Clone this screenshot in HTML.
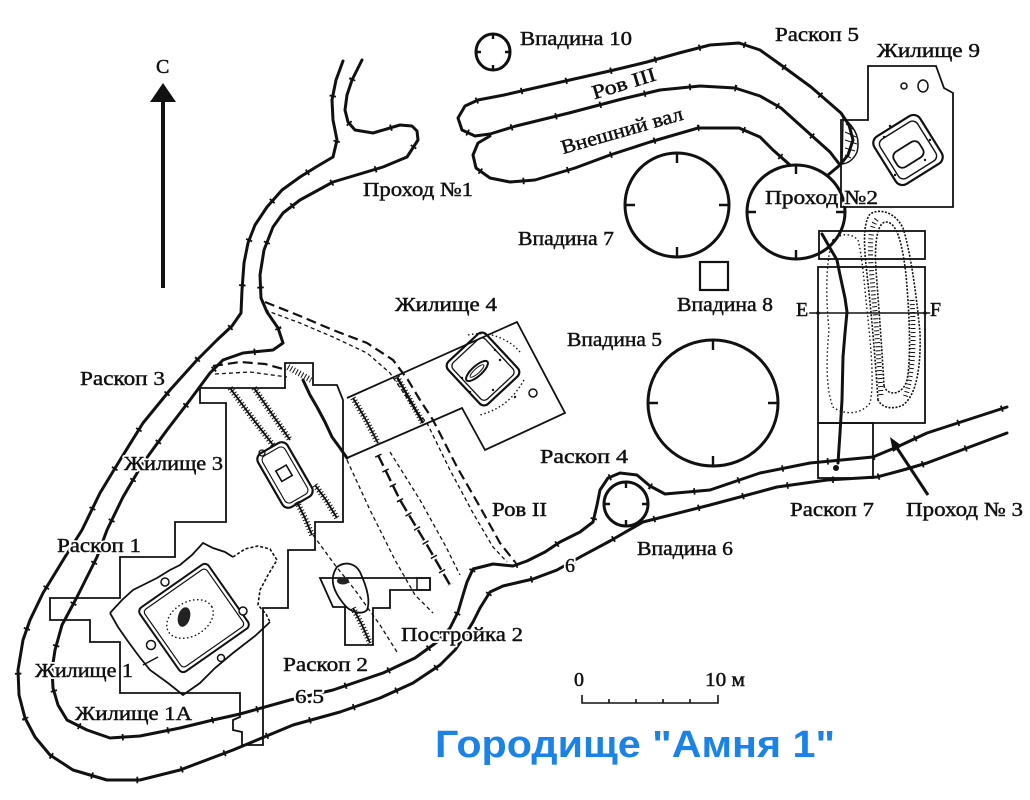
<!DOCTYPE html>
<html><head><meta charset="utf-8">
<style>
html,body{margin:0;padding:0;background:#fff;}
svg{display:block;}
.h text{font-family:"Liberation Serif","DejaVu Serif",serif;font-size:20px;fill:#fff;stroke:#fff;stroke-width:4;stroke-linejoin:round;}
.f text{font-family:"Liberation Serif","DejaVu Serif",serif;font-size:20px;fill:#111;stroke:#111;stroke-width:0.45;}
.ln{fill:none;stroke:#111;stroke-width:3;stroke-linejoin:round;stroke-linecap:round;}
.tk{fill:none;stroke:#111;stroke-width:6.5;stroke-dasharray:1.8 44;}
.th{fill:none;stroke:#111;stroke-width:1.8;stroke-linejoin:miter;}
.ht{fill:none;stroke:#111;stroke-width:6;stroke-dasharray:1 2.2;}
.d1{fill:none;stroke:#111;stroke-width:2.2;stroke-dasharray:10 5;}
.d2{fill:none;stroke:#111;stroke-width:1.3;stroke-dasharray:4 3;}
.dt{fill:none;stroke:#111;stroke-width:1.4;stroke-dasharray:1.5 2.5;}
.c{fill:none;stroke:#111;stroke-width:3;}
.tc{stroke:#111;stroke-width:2.4;}
</style></head><body>
<svg width="1030" height="800" viewBox="0 0 1030 800" xmlns="http://www.w3.org/2000/svg">
<rect width="1030" height="800" fill="#fff"/>

<!-- North arrow -->
<line x1="163" y1="98" x2="163" y2="288" stroke="#111" stroke-width="4"/>
<polygon points="150,102 176,102 163,83" fill="#111"/>

<!-- West rampart outer line -->
<path class="ln" d="M343,61 L336,80 332,100 333,120 337,140 333,157 316,167 300,177 282,190 267,207 255,225 248,243 244,263 242,290 241,313 232,326 217,340 197,360 170,390 143,423 120,460 100,493 82,530 65,557 43,593 30,620 23,640 18,670 19,695 25,718 35,737 50,755 73,770 107,780 140,780 180,770 233,750 293,725 340,712 380,698 413,683 440,665 455,650 465,635 473,622 480,608 490,592 503,586 533,579 557,570 582,556 610,541 643,522 710,505 777,487 827,480 877,477 903,470 927,463 1007,433"/>
<path class="tk" stroke-dashoffset="10" d="M343,61 L336,80 332,100 333,120 337,140 333,157 316,167 300,177 282,190 267,207 255,225 248,243 244,263 242,290 241,313 232,326 217,340 197,360 170,390 143,423 120,460 100,493 82,530 65,557 43,593 30,620 23,640 18,670 19,695 25,718 35,737 50,755 73,770 107,780 140,780 180,770 233,750 293,725 340,712 380,698 413,683 440,665 455,650 465,635 473,622 480,608 490,592 503,586 533,579 557,570 582,556 610,541 643,522 710,505 777,487 827,480 877,477 903,470 927,463 1007,433"/>

<!-- West rampart inner line -->
<path class="ln" d="M362,60 L352,80 347,95 345,110 348,122 355,130 373,133 400,125 412,126 417,131 418,140 407,157 383,167 333,182 300,200 283,213 273,227 264,250 260,275 261,298 267,312 278,328 283,343 273,350 243,353 223,360 210,373 190,400 167,430 143,463 123,497 107,530 97,557 77,597 62,625 55,650 52,670 53,688 58,705 67,720 87,730 110,738 140,736 180,728 213,720 240,714 290,700 333,690 383,673 415,658 437,642 450,628 458,612 463,595 467,582 473,569 493,564 513,566 527,561 545,552 560,542 580,532 593,522 597,505 600,490 608,478 620,473 637,475 650,486 665,494 710,490 760,473 810,463 873,457 897,447 927,433 1007,407"/>
<path class="tk" stroke-dashoffset="25" d="M362,60 L352,80 347,95 345,110 348,122 355,130 373,133 400,125 412,126 417,131 418,140 407,157 383,167 333,182 300,200 283,213 273,227 264,250 260,275 261,298 267,312 278,328 283,343 273,350 243,353 223,360 210,373 190,400 167,430 143,463 123,497 107,530 97,557 77,597 62,625 55,650 52,670 53,688 58,705 67,720 87,730 110,738 140,736 180,728 213,720 240,714 290,700 333,690 383,673 415,658 437,642 450,628 458,612 463,595 467,582 473,569 493,564 513,566 527,561 545,552 560,542 580,532 593,522 597,505 600,490 608,478 620,473 637,475 650,486 665,494 710,490 760,473 810,463 873,457 897,447 927,433 1007,407"/>

<!-- Ров III / Внешний вал -->
<path class="ln" d="M828,175 L840,165 848,155 853,140 849,125 841,113 811,87 781,65 760,50 739,43 710,45 679,53 647,62 614,70 561,82 504,95 478,100 465,106 458,118 462,130 475,136 490,134 516,126 569,113 622,99 660,90 700,86 735,88 760,96 781,108 811,135 830,152 840,165"/>
<path class="tk" stroke-dashoffset="5" d="M849,125 L841,113 811,87 781,65 760,50 739,43 710,45 679,53 647,62 614,70 561,82 504,95 478,100 465,106 458,118 462,130 475,136 490,134 516,126 569,113 622,99 660,90 700,86 735,88 760,96 781,108 811,135 830,152"/>
<path class="ln" d="M490,136 L478,143 473,155 476,168 490,178 510,182 535,180 575,168 610,155 650,142 698,128 739,128 760,137 773,150 790,165"/>
<path class="tk" stroke-dashoffset="15" d="M478,143 L473,155 476,168 490,178 510,182 535,180 575,168 610,155 650,142 698,128 739,128 760,137 773,150 790,165"/>
<path d="M843,118 Q862,132 857,152 Q852,163 842,164 Z" fill="none" stroke="#111" stroke-width="1.5"/>
<path d="M846,124 L854,130 M845,132 L856,137 M845,140 L857,144 M845,148 L855,151 M845,155 L851,158" stroke="#111" stroke-width="1"/>

<!-- Впадина 10 -->
<ellipse cx="493" cy="52" rx="17" ry="18" class="c"/>
<path d="M493,34 V39 M493,70 V65 M476,52 H481 M510,52 H505" class="tc"/>
<!-- Впадина 7 -->
<circle cx="677" cy="205" r="52" class="c"/>
<path d="M677,153 V163 M677,257 V247 M625,205 H635 M729,205 H719" class="tc"/>
<!-- Проход №2 circle -->
<ellipse cx="796" cy="212" rx="49" ry="47" class="c"/>
<path d="M796,165 V174 M796,259 V250 M747,212 H756 M845,212 H836" class="tc"/>
<!-- Впадина 8 -->
<rect x="700" y="262" width="28" height="28" fill="none" stroke="#111" stroke-width="2.2"/>
<!-- Впадина 5 -->
<ellipse cx="713" cy="403" rx="65" ry="63" class="c"/>
<path d="M713,340 V350 M713,466 V456 M648,403 H658 M778,403 H768" class="tc"/>
<!-- Впадина 6 -->
<circle cx="626" cy="504" r="22" class="c"/>
<path d="M626,482 V488 M626,526 V520 M604,504 H610 M648,504 H642" class="tc"/>

<!-- Жилище 9 excavation -->
<polygon points="868,66 936,66 944,88 953,93 953,207 841,207 841,120 868,120" class="th"/>
<g transform="translate(908,150) rotate(-32)">
<rect x="-27" y="-28" width="54" height="56" rx="8" fill="none" stroke="#111" stroke-width="2.2"/>
<rect x="-22" y="-23" width="44" height="46" rx="6" fill="none" stroke="#111" stroke-width="1.4"/>
<rect x="-17" y="-5" width="30" height="18" rx="6" fill="none" stroke="#111" stroke-width="1.8"/>
</g>
<circle cx="904" cy="86" r="3" fill="none" stroke="#111" stroke-width="1.5"/>
<ellipse cx="923" cy="86" rx="5" ry="6" fill="none" stroke="#111" stroke-width="1.5"/>
<g fill="#111"><circle cx="884" cy="137" r="1.2"/><circle cx="930" cy="140" r="1.2"/><circle cx="895" cy="175" r="1.2"/><circle cx="925" cy="160" r="1.2"/><circle cx="890" cy="126" r="1.2"/></g>

<!-- Раскоп 7 -->
<rect x="819" y="231" width="106" height="28" class="th"/>
<rect x="818" y="267" width="107" height="156" class="th"/>
<rect x="818" y="423" width="55" height="55" class="th"/>
<line x1="803" y1="313" x2="935" y2="313" stroke="#111" stroke-width="1.6"/>
<circle cx="818" cy="313" r="1.8" fill="#111"/><circle cx="925" cy="313" r="1.8" fill="#111"/>
<path d="M833,240 C825,260 826,300 829,330 C826,360 826,390 833,407 C845,416 862,414 870,403 C874,385 872,355 867,310 C864,280 862,255 858,240 C850,232 840,234 833,240 Z" class="dt"/>
<path d="M878,400 C876,370 873,330 868,283 C864,250 862,225 870,214 C880,208 895,212 903,228 C910,250 916,290 920,333 C921,365 917,395 903,405 C893,410 882,408 878,400 Z" fill="none" stroke="#111" stroke-width="1.6" stroke-dasharray="2 1.5"/>
<path d="M884,386 C882,350 879,310 876,270 C874,240 878,222 886,222 C896,222 902,240 906,275 C910,320 911,360 907,380 C903,395 888,397 884,386 Z" fill="none" stroke="#111" stroke-width="1.6" stroke-dasharray="2 1.5"/>
<path d="M881,395 C879,360 876,320 872,278 C869,245 870,225 878,218 M912,300 C914,340 914,370 905,398" fill="none" stroke="#111" stroke-width="5" stroke-dasharray="1 3"/>
<path class="ln" d="M822,234 L830,248 837,260 840,275 845,298 847,312 845,333 843,357 842,400 840,433 838,463"/>
<circle cx="836" cy="468" r="3" fill="#111"/>
<!-- Проход № 3 arrow -->
<line x1="928" y1="495" x2="897" y2="448" stroke="#111" stroke-width="3"/>
<polygon points="890,437 902,446 893,452" fill="#111"/>

<!-- Раскоп 3 big stepped polygon -->
<polygon points="200,388 285,388 285,363 313,363 313,385 337,385 343,400 343,522 315,522 315,550 288,550 288,608 263,608 263,745 242,745 242,732 233,730 233,720 240,717 240,693 120,693 120,642 90,642 90,620 50,620 50,598 120,598 120,557 175,557 175,522 226,522 226,403 200,403" class="th"/>
<path d="M288,367 L311,380" class="ht"/>
<!-- Жилище 4 trench -->
<polyline points="347,398 517,322 565,413 485,450 462,408 347,458" class="th"/>
<path d="M353,398 L366,420 378,443" class="th"/>
<path d="M353,398 L366,420 378,443" class="ht"/>
<path d="M397,377 L410,400 423,423" fill="none" stroke="#111" stroke-width="2.4"/>
<path d="M397,377 L410,400 423,423" class="ht"/>
<!-- Жилище 4 dwelling -->
<g transform="translate(483,369) rotate(-43)">
<rect x="-26" y="-29" width="52" height="58" rx="6" fill="none" stroke="#111" stroke-width="2.2"/>
<rect x="-22" y="-25" width="44" height="50" rx="5" fill="none" stroke="#111" stroke-width="1.3"/>
</g>
<ellipse cx="477" cy="371" rx="14" ry="5" transform="rotate(-42 477 371)" fill="none" stroke="#111" stroke-width="2"/>
<ellipse cx="477" cy="371" rx="9" ry="2.5" transform="rotate(-42 477 371)" fill="none" stroke="#111" stroke-width="1"/>
<circle cx="533" cy="393" r="4" fill="none" stroke="#111" stroke-width="1.5"/>
<path d="M468,335 C490,330 510,340 520,352 M524,380 C515,395 505,408 480,415" class="dt"/>
<g fill="#111"><circle cx="462" cy="378" r="1.2"/><circle cx="500" cy="360" r="1.2"/><circle cx="495" cy="350" r="1.2"/><circle cx="493" cy="390" r="1.2"/><circle cx="515" cy="397" r="1.2"/><circle cx="470" cy="392" r="1.2"/></g>

<!-- Раскоп 3 interior -->
<path d="M230,388 L250,415 273,445" class="th"/>
<path d="M230,388 L250,415 273,445" class="ht"/>
<path d="M254,388 L272,414 290,440" class="th"/>
<path d="M254,388 L272,414 290,440" class="ht"/>
<path class="ln" stroke-width="2.4" d="M303,380 L310,395 317,407 325,422 332,437 340,448 347,458"/>
<path d="M297,502 L305,518 312,535" class="th"/><path d="M297,502 L305,518 312,535" class="ht"/>
<path d="M315,485 L326,500 337,518" class="th"/><path d="M315,485 L326,500 337,518" class="ht"/>
<g transform="translate(285,475) rotate(-30)">
<rect x="-17" y="-31" width="34" height="62" rx="7" fill="none" stroke="#111" stroke-width="2.2"/>
<rect x="-13" y="-27" width="26" height="54" rx="5" fill="none" stroke="#111" stroke-width="1.1"/>
<rect x="-6" y="-8" width="12" height="12" fill="none" stroke="#111" stroke-width="1.6"/>
</g>
<circle cx="262" cy="453" r="3" fill="none" stroke="#111" stroke-width="1.3"/>
<!-- Dashed lines top of Раскоп 3 -->
<path d="M213,366 L240,362 265,364 287,370" class="d1"/>
<path d="M215,374 L250,372 287,377" class="d2"/>

<!-- Ров II dashed lines -->
<path d="M265,302 L300,316 333,330 367,343 393,360 408,380 420,400 433,420 457,467 480,507 500,543 515,562" class="d1"/>
<path d="M265,310 L300,323 333,337 367,353 390,373 403,392 415,410 427,423 450,470 473,513 493,547 507,562" class="d2"/>
<!-- diagonal dashed lines -->
<path d="M347,460 L370,510 395,560 415,595 433,613" class="d2"/>
<path d="M378,455 L400,500 427,545 450,585" fill="none" stroke="#111" stroke-width="2.4" stroke-dasharray="12 5"/>
<path d="M378,455 L400,500 427,545 450,585" fill="none" stroke="#111" stroke-width="7" stroke-dasharray="1.5 15"/>
<path d="M390,452 L420,500 445,545 460,575" class="d2"/>
<path d="M313,535 L335,565 355,590 380,625 397,652" class="d2"/>

<!-- Постройка 2 / Раскоп 2 -->
<polygon points="320,578 430,578 430,590 390,590 390,608 373,608 373,645 345,645 345,607 333,607" class="th"/>
<rect x="417" y="578" width="13" height="12" fill="none" stroke="#111" stroke-width="1.5"/>
<path d="M337,567 C345,561 355,563 360,572 C366,585 371,600 367,610 C362,615 350,613 343,603 C335,593 328,580 337,567 Z" fill="none" stroke="#111" stroke-width="1.8"/>
<ellipse cx="343" cy="581" rx="6" ry="3.5" fill="#222"/>
<path d="M353,608 L362,625 370,643" class="th"/><path d="M353,608 L362,625 370,643" class="ht"/>

<!-- Жилище 1 -->
<path d="M110,613 L122,600 133,590 145,584 157,578 170,570 180,565 192,555 203,543 213,548 225,552 233,557" fill="none" stroke="#111" stroke-width="1.8"/>
<path d="M233,557 L245,549 258,546 270,549 277,560 268,575 260,590 258,605 266,614 270,622" fill="none" stroke="#111" stroke-width="1.6" stroke-dasharray="3 2"/>
<path d="M270,622 L255,636 233,653 215,668 200,683 183,695 168,683 150,670 138,655 127,640 118,627 110,613" fill="none" stroke="#111" stroke-width="1.8"/>
<g transform="translate(194,618) rotate(-35)">
<rect x="-42" y="-39" width="84" height="78" rx="5" fill="none" stroke="#111" stroke-width="2"/>
<rect x="-38" y="-35" width="76" height="70" rx="4" fill="none" stroke="#111" stroke-width="1.2"/>
</g>
<g fill="#fff" stroke="#111" stroke-width="1.5">
<circle cx="165" cy="582" r="4"/><circle cx="151" cy="645" r="4.5"/><circle cx="243" cy="611" r="4"/><circle cx="221" cy="658" r="3.5"/>
</g>
<ellipse cx="190" cy="619" rx="25" ry="17" transform="rotate(-30 190 619)" class="dt"/>
<ellipse cx="184" cy="617" rx="6" ry="10" transform="rotate(15 184 617)" fill="#222"/>
<line x1="143" y1="665" x2="158" y2="657" stroke="#111" stroke-width="1.5"/>

<!-- Scale bar -->
<path d="M582,695 V703 H718 V695 M609,703 V699 M636,703 V699 M663,703 V699 M690,703 V699" fill="none" stroke="#111" stroke-width="1.6"/>

<!-- Label halos -->
<g class="h">
<text x="520" y="45" textLength="112" lengthAdjust="spacingAndGlyphs">Впадина 10</text>
<text x="775" y="41" textLength="84" lengthAdjust="spacingAndGlyphs">Раскоп 5</text>
<text x="877" y="57" textLength="103" lengthAdjust="spacingAndGlyphs">Жилище 9</text>
<text x="624" y="90" text-anchor="middle" transform="rotate(-17 624 84)" textLength="66" lengthAdjust="spacingAndGlyphs">Ров III</text>
<text x="622" y="137" text-anchor="middle" transform="rotate(-16 622 131)" textLength="126" lengthAdjust="spacingAndGlyphs">Внешний вал</text>
<text x="363" y="196" textLength="110" lengthAdjust="spacingAndGlyphs">Проход №1</text>
<text x="765" y="204" textLength="113" lengthAdjust="spacingAndGlyphs">Проход №2</text>
<text x="518" y="245" textLength="96" lengthAdjust="spacingAndGlyphs">Впадина 7</text>
<text x="677" y="311" textLength="96" lengthAdjust="spacingAndGlyphs">Впадина 8</text>
<text x="395" y="311" textLength="102" lengthAdjust="spacingAndGlyphs">Жилище 4</text>
<text x="567" y="346" textLength="95" lengthAdjust="spacingAndGlyphs">Впадина 5</text>
<text x="796" y="316">E</text>
<text x="930" y="316">F</text>
<text x="80" y="385" textLength="85" lengthAdjust="spacingAndGlyphs">Раскоп 3</text>
<text x="124" y="470" textLength="99" lengthAdjust="spacingAndGlyphs">Жилище 3</text>
<text x="540" y="463" textLength="88" lengthAdjust="spacingAndGlyphs">Раскоп 4</text>
<text x="492" y="516" textLength="55" lengthAdjust="spacingAndGlyphs">Ров II</text>
<text x="790" y="516" textLength="84" lengthAdjust="spacingAndGlyphs">Раскоп 7</text>
<text x="906" y="516" textLength="117" lengthAdjust="spacingAndGlyphs">Проход № 3</text>
<text x="57" y="552" textLength="84" lengthAdjust="spacingAndGlyphs">Раскоп 1</text>
<text x="637" y="555" textLength="96" lengthAdjust="spacingAndGlyphs">Впадина 6</text>
<text x="565" y="572">6</text>
<text x="401" y="641" textLength="122" lengthAdjust="spacingAndGlyphs">Постройка 2</text>
<text x="283" y="671" textLength="85" lengthAdjust="spacingAndGlyphs">Раскоп 2</text>
<text x="35" y="677" textLength="98" lengthAdjust="spacingAndGlyphs">Жилище 1</text>
<text x="295" y="703" textLength="29" lengthAdjust="spacingAndGlyphs">6.5</text>
<text x="75" y="720" textLength="117" lengthAdjust="spacingAndGlyphs">Жилище 1А</text>
</g>
<!-- Labels -->
<g class="f">
<text x="156" y="73">С</text>
<text x="520" y="45" textLength="112" lengthAdjust="spacingAndGlyphs">Впадина 10</text>
<text x="775" y="41" textLength="84" lengthAdjust="spacingAndGlyphs">Раскоп 5</text>
<text x="877" y="57" textLength="103" lengthAdjust="spacingAndGlyphs">Жилище 9</text>
<text x="624" y="90" text-anchor="middle" transform="rotate(-17 624 84)" textLength="66" lengthAdjust="spacingAndGlyphs">Ров III</text>
<text x="622" y="137" text-anchor="middle" transform="rotate(-16 622 131)" textLength="126" lengthAdjust="spacingAndGlyphs">Внешний вал</text>
<text x="363" y="196" textLength="110" lengthAdjust="spacingAndGlyphs">Проход №1</text>
<text x="765" y="204" textLength="113" lengthAdjust="spacingAndGlyphs">Проход №2</text>
<text x="518" y="245" textLength="96" lengthAdjust="spacingAndGlyphs">Впадина 7</text>
<text x="677" y="311" textLength="96" lengthAdjust="spacingAndGlyphs">Впадина 8</text>
<text x="395" y="311" textLength="102" lengthAdjust="spacingAndGlyphs">Жилище 4</text>
<text x="567" y="346" textLength="95" lengthAdjust="spacingAndGlyphs">Впадина 5</text>
<text x="796" y="316">E</text>
<text x="930" y="316">F</text>
<text x="80" y="385" textLength="85" lengthAdjust="spacingAndGlyphs">Раскоп 3</text>
<text x="124" y="470" textLength="99" lengthAdjust="spacingAndGlyphs">Жилище 3</text>
<text x="540" y="463" textLength="88" lengthAdjust="spacingAndGlyphs">Раскоп 4</text>
<text x="492" y="516" textLength="55" lengthAdjust="spacingAndGlyphs">Ров II</text>
<text x="790" y="516" textLength="84" lengthAdjust="spacingAndGlyphs">Раскоп 7</text>
<text x="906" y="516" textLength="117" lengthAdjust="spacingAndGlyphs">Проход № 3</text>
<text x="57" y="552" textLength="84" lengthAdjust="spacingAndGlyphs">Раскоп 1</text>
<text x="637" y="555" textLength="96" lengthAdjust="spacingAndGlyphs">Впадина 6</text>
<text x="565" y="572">6</text>
<text x="401" y="641" textLength="122" lengthAdjust="spacingAndGlyphs">Постройка 2</text>
<text x="283" y="671" textLength="85" lengthAdjust="spacingAndGlyphs">Раскоп 2</text>
<text x="35" y="677" textLength="98" lengthAdjust="spacingAndGlyphs">Жилище 1</text>
<text x="295" y="703" textLength="29" lengthAdjust="spacingAndGlyphs">6.5</text>
<text x="75" y="720" textLength="117" lengthAdjust="spacingAndGlyphs">Жилище 1А</text>
<text x="574" y="686">0</text>
<text x="705" y="686" textLength="40" lengthAdjust="spacingAndGlyphs">10 м</text>
</g>

<text x="435" y="757" font-family="'Liberation Sans', Arial, sans-serif" font-weight="bold" font-size="38" fill="#1b82e6" textLength="400" lengthAdjust="spacingAndGlyphs">Городище "Амня 1"</text>
</svg>
</body></html>
